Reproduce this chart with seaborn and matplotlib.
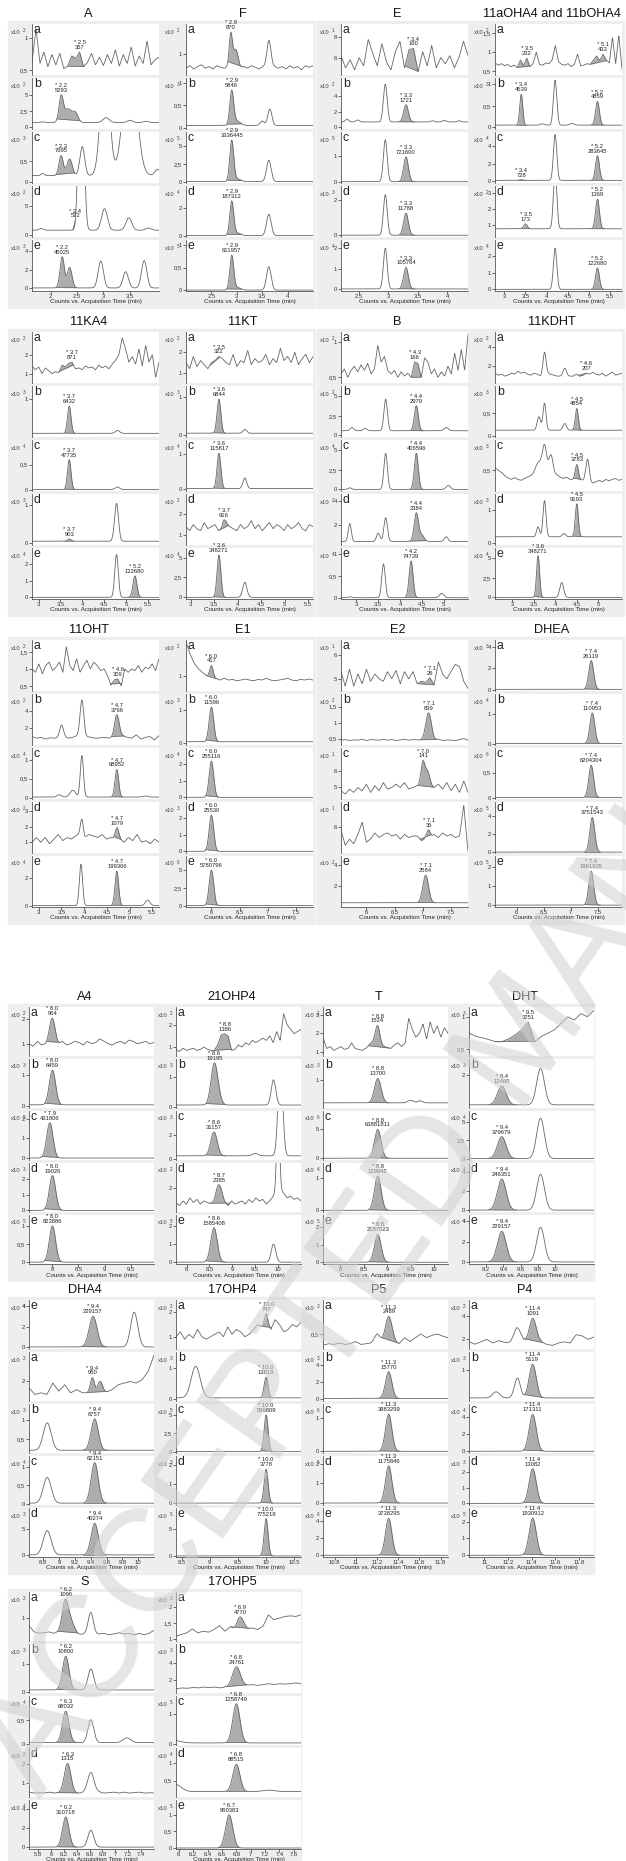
import numpy as np
import matplotlib
matplotlib.use("Agg")
import matplotlib.pyplot as plt
from matplotlib.patches import Rectangle
import seaborn as sns

sns.set_style("white")
plt.rcParams["font.family"] = ["Liberation Sans", "DejaVu Sans"]

NAMES = ["A", "F", "E", "11aOHA4 and 11bOHA4",
         "11KA4", "11KT", "B", "11KDHT",
         "11OHT", "E1", "E2", "DHEA",
         "A4", "21OHP4", "T", "DHT",
         "DHA4", "17OHP4", "P5", "P4",
         "S", "17OHP5"]
LETTERS = [list("abcde")] * 16 + [list("eabcd")] + [list("abcde")] * 5

XLIMS = [(1.65, 4.05), (2.0, 4.5), (2.2, 4.35), (2.78, 5.78),
         (2.85, 5.75), (2.9, 5.6), (2.65, 5.55), (2.6, 5.55),
         (2.85, 5.65), (5.55, 7.8), (5.55, 7.8), (5.6, 7.95),
         (7.55, 9.95), (7.77, 10.5), (7.63, 10.3), (9.0, 10.45),
         (8.62, 10.2), (8.4, 10.62), (10.69, 11.87), (10.87, 11.93),
         (5.66, 7.6), (5.96, 7.7)]
XTICKS = [[2, 2.5, 3, 3.5], [2.5, 3, 3.5, 4], [2.5, 3, 3.5, 4], [3, 3.5, 4, 4.5, 5, 5.5],
          [3, 3.5, 4, 4.5, 5, 5.5], [3, 3.5, 4, 4.5, 5, 5.5], [3, 3.5, 4, 4.5, 5], [3, 3.5, 4, 4.5, 5],
          [3, 3.5, 4, 4.5, 5, 5.5], [6, 6.5, 7, 7.5], [6, 6.5, 7, 7.5], [6, 6.5, 7, 7.5],
          [8, 8.5, 9, 9.5], [8, 8.5, 9, 9.5, 10], [8, 8.5, 9, 9.5, 10], [9.2, 9.4, 9.6, 9.8, 10],
          [8.8, 9, 9.2, 9.4, 9.6, 9.8, 10], [8.5, 9, 9.5, 10, 10.5],
          [10.8, 11, 11.2, 11.4, 11.6, 11.8], [11, 11.2, 11.4, 11.6, 11.8],
          [5.8, 6, 6.2, 6.4, 6.6, 6.8, 7, 7.2, 7.4], [6, 6.2, 6.4, 6.6, 6.8, 7, 7.2, 7.4, 7.6]]

EXPS = [[2, 2, 3, 2, 3], [2, 3, 5, 4, 5], [1, 2, 5, 3, 4], [2, 3, 4, 2, 4],
        [2, 3, 4, 3, 4], [2, 3, 4, 2, 4], [2, 2, 4, 2, 4], [2, 3, 3, 3, 4],
        [2, 2, 4, 2, 4], [2, 3, 4, 3, 6], [1, 2, 1, 1, 2], [3, 4, 6, 5, 5],
        [2, 3, 5, 3, 5], [2, 3, 3, 2, 5], [2, 3, 6, 4, 5], [3, 3, 4, 4, 4],
        [4, 2, 3, 4, 3], [2, 3, 5, 3, 5], [3, 3, 6, 5, 6], [2, 3, 4, 3, 5],
        [2, 3, 4, 2, 4], [3, 3, 5, 4, 5]]

YLIMS = [
    [(0.42, 1.22), (-0.3, 7.6), (-0.03, 1.2), (-0.4, 8.6), (-0.3, 5.2)],
    [(0.5, 1.7), (-0.03, 1.12), (-0.2, 7.0), (-0.1, 3.6), (-0.02, 1.12)],
    [(4.3, 9.3), (-0.2, 6.3), (-0.05, 1.9), (-0.1, 2.8), (-0.1, 2.4)],
    [(0.4, 1.75), (-0.04, 1.15), (-0.2, 5.6), (0.3, 3.4), (-0.1, 3.0)],
    [(0.5, 3.2), (-0.05, 1.35), (-0.03, 1.0), (-0.05, 1.3), (-0.1, 3.0)],
    [(0.5, 3.0), (-0.05, 1.3), (-0.05, 1.4), (0.5, 3.0), (-0.2, 6.2)],
    [(0.42, 1.15), (-0.2, 6.3), (-0.2, 6.3), (0.3, 4.6), (-0.03, 1.15)],
    [(0.3, 5.5), (-0.03, 1.1), (0.05, 1.15), (-0.05, 1.5), (-0.2, 6.3)],
    [(0.35, 1.85), (0.0, 6.0), (-0.03, 1.3), (0.3, 3.6), (-0.1, 3.6)],
    [(0.6, 2.0), (-0.05, 1.5), (-0.1, 3.0), (-0.1, 3.0), (-0.2, 7.0)],
    [(4.5, 6.6), (0.3, 1.9), (4.3, 7.4), (4.3, 7.6), (0.0, 4.8)],
    [(-0.1, 4.6), (-0.05, 1.7), (-0.03, 1.0), (-0.1, 5.5), (-0.1, 2.6)],
    [(0.5, 2.5), (-0.05, 1.5), (-0.1, 2.4), (-0.1, 3.0), (-0.05, 1.3)],
    [(0.6, 2.8), (-0.05, 1.6), (-0.1, 4.0), (0.5, 3.6), (-0.1, 2.6)],
    [(0.8, 3.4), (-0.1, 1.8), (-0.3, 8.2), (-0.05, 1.45), (-0.1, 2.7)],
    [(0.4, 1.15), (-0.1, 3.0), (-0.2, 6.5), (-0.2, 5.0), (-0.2, 4.6)],
    [(-0.2, 4.6), (0.8, 3.8), (0.15, 1.4), (-0.03, 1.3), (-0.3, 9.0)],
    [(0.5, 2.5), (-0.05, 1.5), (-0.2, 6.5), (-0.1, 2.5), (-0.2, 9.0)],
    [(0.3, 0.95), (-0.2, 5.5), (-0.05, 1.4), (-0.1, 2.4), (-0.2, 5.5)],
    [(1.2, 5.3), (0.0, 1.6), (-0.2, 5.5), (-0.1, 3.0), (-0.1, 2.8)],
    [(0.25, 1.85), (-0.05, 1.7), (-0.03, 1.0), (0.3, 2.8), (-0.2, 5.0)],
    [(0.95, 2.45), (0.5, 6.3), (-0.05, 1.6), (0.05, 1.4), (-0.03, 1.45)],
]
YTICKS = [
    [[0.5, 1], [0, 2.5, 5], [0, 0.5], [0, 5], [0, 2, 4]],
    [[1], [0, 0.5, 1], [0, 2.5, 5], [0, 2], [0, 0.5, 1]],
    [[6, 8], [0, 2, 4], [0, 1], [0, 2], [0, 1, 2]],
    [[0.5, 1, 1.5], [0, 0.5, 1], [0, 2, 4], [1, 2, 3], [0, 1, 2]],
    [[1, 2], [1], [0, 0.5], [0, 1], [0, 1, 2]],
    [[1, 2], [0, 1], [0, 1], [1, 2], [0, 2.5, 5]],
    [[0.5, 1], [0, 2.5, 5], [0, 2.5, 5], [2, 4], [0, 0.5, 1]],
    [[2, 4], [0, 0.5], [0.5], [0, 1], [0, 2.5, 5]],
    [[0.5, 1, 1.5], [2, 4], [0, 0.5, 1], [1, 2, 3], [0, 2]],
    [[1], [0, 1], [0, 1, 2], [0, 1, 2], [0, 2.5, 5]],
    [[5, 6], [0.5, 1, 1.5], [5, 6], [6], [2, 4]],
    [[0, 2, 4], [0, 1], [0, 0.5], [0, 2, 4], [0, 1, 2]],
    [[1, 2], [0, 1], [0, 1, 2], [0, 1, 2], [0, 0.5, 1]],
    [[1, 2], [0, 1], [0, 2], [2], [0, 1, 2]],
    [[1, 2, 3], [1], [0, 5], [0, 1], [0, 1, 2]],
    [[0.5, 1], [2], [0, 2.5, 5], [0, 2, 4], [0, 2, 4]],
    [[0, 2, 4], [2], [0.5, 1], [0, 0.5, 1], [0, 5]],
    [[1, 2], [0, 1], [0, 2.5, 5], [0, 1, 2], [0, 5]],
    [[0.5], [0, 2, 4], [0, 1], [0, 1, 2], [0, 2, 4]],
    [[2, 4], [1], [0, 2, 4], [0, 1, 2], [0, 1, 2]],
    [[1], [0, 1], [0, 0.5], [1, 2], [0, 2, 4]],
    [[1, 1.5, 2], [2, 4], [0, 1], [0.5, 1], [0, 0.5, 1]],
]

# baseline of each trace: one value = flat, several = values evenly spread over the x range
BASES = [
    [[0.62, 1.15, 0.6, 0.78, 0.55, 0.74, 0.58, 0.76, 0.52, 0.56, 0.72, 0.68, 0.78, 0.55, 0.62, 0.76, 0.58,
      0.7, 0.57, 0.74, 0.6, 0.82, 0.56, 0.74, 0.6, 0.86, 0.56, 0.72, 0.6, 0.95, 0.58, 0.66, 0.7],
     [0.7], [0.15], [0.8], [0.03]],
    [[0.66, 0.72, 0.64, 0.7, 0.74, 0.66, 0.7, 0.64, 0.72, 0.68, 0.66, 0.7, 0.74, 0.7, 0.64, 0.7, 0.66,
      0.72, 0.68, 0.64, 0.7, 0.66, 0.72, 0.7, 0.66, 0.7, 0.64, 0.72, 0.66, 0.7, 0.62, 0.72, 0.68, 0.72],
     [0.05], [0.0], [0.0], [0.0]],
    [[6.2, 5.0, 5.8, 4.8, 6.0, 5.2, 7.8, 6.4, 5.2, 7.4, 5.6, 4.8, 6.6, 7.6, 5.0, 6.8, 6.9, 4.6, 6.6, 5.2,
      7.2, 5.0, 6.0, 5.4, 6.2, 5.0, 6.0, 7.6, 6.2],
     [0.7], [0.0], [0.0], [0.0]],
    [[0.72, 0.66, 0.7, 0.64, 0.68, 0.62, 0.66, 0.6, 0.8, 0.65, 0.85, 0.62, 0.7, 1.0, 0.68, 0.66, 0.72, 0.7,
      0.8, 1.18, 0.75, 0.68, 0.66, 0.7, 0.62, 0.68, 0.95, 0.64, 0.66, 0.7, 0.68, 0.8, 0.9, 0.78, 0.95, 0.8,
      0.72, 1.4, 0.7, 1.45, 0.55],
     [0.05], [0.1], [0.8], [0.0]],
    [[1.4, 1.2, 1.35, 1.0, 1.3, 1.15, 1.0, 1.1, 1.05, 1.45, 1.35, 1.55, 1.6, 1.25, 1.3, 1.2, 1.4, 1.3,
      1.35, 1.2, 1.45, 1.3, 1.4, 1.25, 1.5, 1.7, 2.0, 2.9, 2.3, 1.6, 1.9, 1.5, 2.3, 1.4, 2.5, 1.6, 2.0,
      0.8, 1.6],
     [0.05], [0.0], [0.05], [0.0]],
    [[1.5, 1.2, 1.8, 1.3, 1.6, 1.4, 1.2, 1.5, 1.6, 1.8, 1.7, 1.5, 1.4, 1.9, 1.3, 1.6, 1.5, 2.1, 1.4, 1.7,
      1.5, 1.6, 1.9, 1.4, 1.7, 1.5, 2.2, 1.6, 1.8, 1.5, 2.0, 1.4, 1.7, 1.9, 1.5, 1.8],
     [0.05], [0.02],
     [1.4, 1.2, 1.5, 1.3, 1.2, 1.6, 1.3, 1.4, 1.5, 1.2, 1.3, 1.6, 1.4, 1.3, 1.2, 1.5, 1.3, 1.4, 1.7, 1.3,
      1.5, 1.2, 1.4, 1.6, 1.3, 1.5, 1.4, 1.2, 1.5, 1.3, 1.4, 1.6, 1.3, 1.2, 1.5, 1.4],
     [0.0]],
    [[0.55, 0.62, 0.5, 0.6, 0.66, 0.58, 0.68, 0.6, 0.7, 0.55, 0.62, 0.96, 0.72, 0.8, 0.6, 0.55, 0.6, 0.5,
      0.58, 0.52, 0.56, 0.5, 0.72, 0.7, 0.5, 0.78, 0.72, 0.55, 0.62, 0.5, 0.58, 0.52, 0.66, 0.55, 0.85,
      0.6, 0.9, 0.6, 1.12],
     [0.6], [0.0], [0.6], [0.0]],
    [[1.3, 1.1, 1.2, 1.0, 1.1, 1.3, 1.2, 1.5, 1.3, 1.4, 1.2, 1.1, 1.3, 1.2, 1.0, 1.1, 1.3, 1.2, 1.1, 1.0,
      1.0, 1.0, 1.0, 1.0, 1.0, 1.2, 1.0, 1.1, 1.3, 1.2, 1.4, 1.2, 1.1, 1.3, 1.0, 1.2, 1.4, 1.1, 1.2, 1.3],
     [0.12],
     [0.55, 0.5, 0.45, 0.38, 0.33, 0.3, 0.34, 0.3, 0.28, 0.32, 0.35, 0.38, 0.42, 0.45, 0.5, 0.45, 0.4,
      0.38, 0.36, 0.4, 0.35, 0.32, 0.35, 0.3, 0.3, 0.3, 0.3, 0.28, 0.25, 0.22, 0.22, 0.25, 0.28, 0.25,
      0.3, 0.27, 0.3, 0.32, 0.28, 0.3],
     [0.2], [0.0]],
    [[1.0, 0.9, 1.15, 0.85, 1.1, 1.2, 0.95, 1.05, 1.2, 0.9, 1.65, 1.1, 0.95, 1.3, 0.9, 1.1, 1.25, 1.0,
      1.2, 1.1, 0.95, 1.0, 0.8, 0.52, 0.68, 0.7, 0.5, 1.0, 0.9, 1.0, 0.95, 1.1, 0.9, 1.05, 1.0, 1.15,
      0.95, 1.3],
     [1.0, 0.8, 0.9, 0.7, 0.85, 0.8, 0.9, 1.0, 0.8, 0.9, 1.1, 1.3, 1.0, 0.9, 0.8, 0.85, 0.9, 0.8, 0.9,
      1.0, 1.1, 0.9, 0.8, 1.2, 0.7, 0.9, 1.0, 0.6, 1.1],
     [0.02],
     [1.0, 1.3, 1.0, 1.3, 0.9, 1.2, 1.5, 1.1, 1.3, 1.2, 1.4, 1.6, 1.3, 1.5, 1.4, 1.3, 1.5, 1.2, 1.3, 1.1,
      1.2, 1.0, 1.3, 1.1, 1.5, 1.0, 1.1, 0.9, 1.2, 1.0],
     [0.0]],
    [[1.95, 1.6, 1.35, 1.2, 1.1, 1.0, 1.0, 0.95, 0.9, 0.95, 0.9, 0.92, 0.88, 0.9, 0.93, 0.9, 0.88, 0.92,
      0.9, 0.95, 0.9, 0.88, 0.9, 0.92, 0.95, 0.9, 0.88, 0.92, 0.9, 0.93, 0.9],
     [0.05], [0.0], [0.0], [0.0]],
    [[5.3, 4.7, 5.4, 4.7, 5.2, 4.8, 5.4, 4.9, 5.2, 5.0, 4.9, 5.3, 5.0, 5.35, 4.8, 5.3, 5.0, 5.3, 4.8, 4.9,
      4.85, 5.05, 4.75, 5.7, 5.2, 5.0, 5.3, 5.6, 5.5, 4.9, 4.6],
     [0.45, 0.47, 0.44, 0.46, 0.45, 0.48, 0.44, 0.47, 0.46, 0.45, 0.48, 0.45, 0.47, 0.44, 0.46, 0.48,
      0.45, 0.47, 0.46, 0.45, 0.44, 0.47, 0.45, 0.48, 0.44, 0.46, 0.45, 0.44, 0.47, 0.5, 0.45],
     [4.8, 4.6, 4.9, 4.7, 5.0, 4.8, 5.2, 4.7, 5.1, 4.8, 5.3, 4.9, 5.0, 5.2, 5.0, 5.3, 4.9, 5.0, 5.1, 5.0,
      5.0, 5.1, 5.0, 5.2, 4.9, 5.3, 4.8, 5.2, 4.7, 5.4, 4.7],
     [5.8, 4.8, 5.2, 4.9, 5.5, 6.3, 5.0, 5.2, 5.6, 5.3, 5.5, 5.6, 5.4, 5.5, 5.2, 5.5, 5.3, 5.4, 5.4, 5.1,
      5.3, 5.3, 5.5, 5.3, 5.6, 5.4, 5.5, 5.3, 5.4, 7.4, 4.4],
     [0.4]],
    [[0.05], [0.0], [0.0], [0.0], [0.0]],
    [[1.0, 0.9, 1.1, 0.95, 1.0, 1.2, 1.1, 1.0, 1.1, 0.95, 1.0, 1.1, 1.05, 0.95, 1.1, 1.0, 1.05, 1.2, 1.1,
      1.0, 0.95, 1.05, 1.1, 1.0, 1.15, 1.1, 1.0, 1.05, 1.1, 1.0, 1.05],
     [0.05], [0.0], [0.0], [0.0]],
    [[0.9, 0.8, 0.95, 0.85, 0.9, 0.95, 0.85, 0.9, 1.0, 0.9, 0.85, 0.85, 1.1, 1.55, 1.6, 1.5, 0.85, 0.9,
      1.1, 1.0, 1.2, 1.1, 1.3, 1.2, 1.3, 1.4, 1.3, 1.5, 1.2, 1.7, 1.3, 2.5, 2.0, 1.8, 1.6, 1.7, 1.8],
     [0.05], [0.25],
     [1.1, 0.9, 1.2, 1.0, 1.4, 1.1, 1.3, 1.0, 1.2, 1.1, 1.0, 0.85, 1.0, 1.1, 1.0, 0.9, 1.2, 1.0, 1.1, 1.2,
      1.0, 1.3, 1.1, 1.4, 1.2, 1.3, 1.0, 1.2, 1.5, 1.8, 1.9, 1.7, 1.4, 1.5, 1.3, 1.4, 1.2],
     [0.0]],
    [[1.8, 1.2, 1.3, 1.1, 1.2, 1.3, 1.15, 1.2, 1.5, 1.2, 1.15, 1.1, 1.2, 1.3, 1.2, 1.25, 1.2, 1.3, 1.25,
      1.2, 1.4, 1.5, 1.3, 1.5, 2.8, 2.2, 1.8, 2.0, 2.5, 1.7, 2.6, 2.0, 2.4, 1.8, 2.3, 2.0],
     [0.1], [0.0], [0.0], [0.0]],
    [[0.75, 0.7, 0.68, 0.65, 0.62, 0.62, 0.66, 0.72, 0.8, 0.92, 0.62, 0.7, 0.75, 0.8, 0.9, 1.0, 0.95,
      1.05, 1.0, 1.1],
     [0.1], [0.0], [0.0], [0.0]],
    [[0.0],
     [1.6, 1.2, 1.3, 1.2, 1.9, 1.4, 1.8, 1.3, 1.5, 1.3, 1.3, 1.35, 1.3, 1.35, 1.5, 1.8, 1.9, 2.0, 1.9, 2.1,
      2.6, 3.6],
     [0.22], [0.02], [0.1]],
    [[1.0, 1.2, 0.9, 1.1, 0.95, 1.3, 1.0, 0.9, 1.0, 1.1, 1.2, 1.0, 1.4, 1.1, 1.3, 1.2, 1.0, 1.1, 1.3, 1.5,
      1.4, 1.6, 1.3, 1.7, 1.5, 1.2, 1.3, 1.5, 1.4, 1.6],
     [0.05], [0.0], [0.0], [0.0]],
    [[0.35, 0.37, 0.36, 0.38, 0.36, 0.37, 0.4, 0.36, 0.37, 0.38, 0.42, 0.4, 0.38, 0.4, 0.37, 0.45, 0.4,
      0.45, 0.5, 0.45, 0.48, 0.5, 0.47, 0.45],
     [0.1], [0.0], [0.0], [0.0]],
    [[1.8, 1.6, 1.8, 2.0, 1.7, 1.9, 1.75, 1.7, 2.0, 1.8, 1.6, 1.7, 1.8, 1.6, 1.5, 1.7, 1.8, 1.7, 2.4,
      2.3, 2.0, 2.2],
     [0.1], [0.0], [0.0], [0.0]],
    [[0.75, 0.55, 0.5, 0.52, 0.55, 0.5, 0.55, 0.68, 0.52, 0.45, 0.45, 0.48, 0.5, 0.45, 0.48, 0.5, 0.45,
      0.48, 0.52, 0.48, 0.5, 0.45, 0.5, 0.45, 0.5, 0.6],
     [0.06], [0.02],
     [0.55, 0.5, 0.52, 0.5, 0.55, 0.5, 0.52, 0.55, 0.5, 0.5, 0.5, 0.52, 0.5, 0.5, 0.55, 0.5, 0.52, 0.55,
      0.5, 0.55, 0.5, 0.52, 0.55, 0.5, 0.52, 0.5],
     [0.0]],
    [[1.1, 1.15, 1.2, 1.32, 1.2, 1.25, 1.22, 1.3, 1.42, 1.25, 1.38, 1.2, 1.25, 1.3, 1.35, 1.3, 1.4, 1.75,
      1.6, 1.65, 1.7, 1.72, 1.7, 1.75],
     [1.0, 1.1, 1.05, 1.15, 1.1, 1.2, 1.15, 1.2, 1.1, 1.2, 1.15, 1.2, 1.3, 1.4, 1.5, 1.4, 1.5, 1.6, 1.5,
      1.6, 1.55, 1.6, 1.7, 1.6],
     [0.02], [0.2], [0.0]],
]

# gaussian peaks (retention time, height, width) of each trace
PEAKS = [
    [[],
     [(2.2, 3.9, 0.04), (2.33, 2.1, 0.07), (2.47, 1.4, 0.05), (1.85, 0.1, 0.04), (3.05, 0.75, 0.06),
      (3.5, 0.35, 0.05), (3.8, 0.2, 0.05)],
     [(1.85, 0.05, 0.03), (2.2, 0.48, 0.04), (2.36, 0.4, 0.05), (2.6, 0.7, 0.045), (3.03, 3.0, 0.08),
      (3.5, 3.0, 0.12), (4.02, 0.15, 0.05)],
     [(1.82, 0.3, 0.04), (2.58, 40.0, 0.045), (3.02, 3.8, 0.055), (3.48, 2.2, 0.055), (3.85, 0.4, 0.05)],
     [(2.22, 3.35, 0.04), (2.36, 2.2, 0.045), (2.95, 2.9, 0.05), (3.42, 1.75, 0.05), (3.77, 2.95, 0.05)]],
    [[(2.88, 0.72, 0.03), (2.98, 0.4, 0.05), (3.63, 0.62, 0.04)],
     [(2.9, 0.76, 0.038), (3.0, 0.1, 0.07), (3.5, 0.1, 0.04), (3.65, 0.37, 0.04)],
     [(2.9, 5.7, 0.038), (3.0, 0.4, 0.07), (3.63, 3.0, 0.045)],
     [(2.9, 2.45, 0.038), (3.0, 0.2, 0.07), (3.63, 1.55, 0.045)],
     [(2.9, 0.76, 0.038), (3.0, 0.06, 0.07), (3.63, 0.52, 0.045)]],
    [[],
     [(2.95, 4.8, 0.032), (3.3, 2.2, 0.04), (2.3, 0.35, 0.03), (2.48, 0.25, 0.03), (3.75, 0.15, 0.03),
      (3.95, 0.2, 0.03), (4.2, 0.15, 0.03)],
     [(2.95, 1.6, 0.032), (3.3, 0.95, 0.04)],
     [(2.95, 2.3, 0.032), (3.3, 1.25, 0.04)],
     [(2.95, 2.0, 0.032), (3.3, 1.05, 0.04)]],
    [[],
     [(3.4, 0.72, 0.035), (4.2, 1.05, 0.04), (5.2, 0.55, 0.045), (3.9, 0.03, 0.05), (4.6, 0.04, 0.05)],
     [(3.4, 0.08, 0.035), (4.2, 5.2, 0.04), (5.2, 2.8, 0.045)],
     [(3.5, 0.3, 0.04), (4.2, 3.5, 0.04), (5.2, 1.8, 0.045)],
     [(4.2, 2.5, 0.04), (5.2, 1.3, 0.045)]],
    [[],
     [(3.7, 0.75, 0.04), (4.8, 0.08, 0.05)],
     [(3.7, 0.6, 0.04), (4.8, 0.05, 0.05)],
     [(3.7, 0.06, 0.04), (4.78, 1.0, 0.045)],
     [(4.78, 2.6, 0.04), (5.2, 1.3, 0.045)]],
    [[],
     [(3.6, 0.9, 0.04), (4.15, 0.1, 0.04)],
     [(3.6, 1.0, 0.04), (4.15, 0.3, 0.04)],
     [(3.7, 0.3, 0.03)],
     [(3.6, 5.3, 0.04), (4.15, 1.9, 0.045)]],
    [[],
     [(3.67, 4.0, 0.04), (4.37, 3.2, 0.045), (2.9, 0.4, 0.04), (3.2, 0.3, 0.04), (5.05, 0.4, 0.05)],
     [(3.67, 4.6, 0.04), (4.37, 4.6, 0.045), (2.85, 0.2, 0.04), (5.1, 0.5, 0.05)],
     [(2.85, 1.5, 0.035), (3.5, 0.7, 0.04), (3.67, 2.0, 0.04), (4.37, 2.4, 0.05), (4.5, 0.5, 0.05),
      (5.05, 0.4, 0.04)],
     [(3.62, 0.78, 0.04), (4.25, 0.85, 0.045), (4.95, 0.1, 0.05), (2.85, 0.02, 0.05)]],
    [[(3.75, 2.3, 0.035), (4.22, 0.8, 0.04)],
     [(3.62, 0.3, 0.04), (3.75, 0.6, 0.035), (4.22, 0.15, 0.04), (4.5, 0.48, 0.035)],
     [(3.75, 0.6, 0.05), (3.9, 0.45, 0.05), (3.6, 0.2, 0.06), (4.5, 0.32, 0.035), (4.75, 0.5, 0.04)],
     [(3.6, 0.3, 0.035), (3.75, 1.1, 0.035), (4.2, 0.1, 0.04), (4.5, 1.0, 0.035)],
     [(3.6, 5.3, 0.035), (4.15, 1.9, 0.045)]],
    [[],
     [(3.5, 1.4, 0.04), (3.95, 4.0, 0.04), (4.72, 2.6, 0.05)],
     [(3.45, 0.06, 0.05), (3.75, 0.18, 0.06), (3.95, 1.08, 0.035), (4.72, 0.72, 0.04), (5.35, 0.03, 0.05)],
     [(3.95, 1.0, 0.03), (4.72, 0.8, 0.04)],
     [(3.93, 3.0, 0.035), (4.72, 2.5, 0.04), (5.4, 0.4, 0.05)]],
    [[(6.0, 0.3, 0.03)],
     [(6.0, 1.05, 0.04)],
     [(6.0, 2.2, 0.04)],
     [(6.0, 2.2, 0.04)],
     [(6.0, 5.0, 0.04)]],
    [[],
     [(7.1, 0.85, 0.05)],
     [(7.0, 1.5, 0.035), (7.08, 0.9, 0.04)],
     [(7.1, 0.5, 0.03)],
     [(7.05, 2.6, 0.05)]],
    [[(7.38, 2.65, 0.045)], [(7.4, 1.05, 0.045)], [(7.38, 0.65, 0.045)], [(7.4, 3.8, 0.045)],
     [(7.38, 1.8, 0.045)]],
    [[(8.0, 0.9, 0.05)], [(8.0, 1.1, 0.06)], [(7.95, 1.8, 0.06)], [(8.0, 2.2, 0.06)], [(8.0, 1.0, 0.06)]],
    [[],
     [(8.6, 1.25, 0.07), (9.9, 0.85, 0.05), (8.68, 0.3, 0.07)],
     [(8.6, 2.0, 0.07), (9.5, 0.2, 0.06), (10.05, 8.0, 0.05)],
     [(8.7, 1.2, 0.07), (10.0, 6.0, 0.03)],
     [(8.6, 1.9, 0.07), (9.9, 1.0, 0.05)]],
    [[(8.8, 1.1, 0.05), (8.7, 0.3, 0.06)],
     [(8.8, 0.95, 0.07), (9.5, 0.1, 0.06), (9.7, 0.08, 0.05)],
     [(8.8, 5.0, 0.07)],
     [(8.8, 1.05, 0.07)],
     [(8.8, 1.6, 0.07)]],
    [[],
     [(9.38, 1.2, 0.05), (9.83, 2.3, 0.045)],
     [(9.38, 3.0, 0.05), (9.83, 5.5, 0.045)],
     [(9.38, 3.3, 0.05), (9.83, 3.8, 0.045)],
     [(9.38, 3.0, 0.05), (9.83, 3.4, 0.045)]],
    [[(9.43, 3.0, 0.05), (9.95, 3.4, 0.045)],
     [(9.42, 0.9, 0.025), (9.52, 0.7, 0.03)],
     [(8.85, 0.7, 0.05), (9.45, 0.8, 0.045)],
     [(8.85, 0.7, 0.05), (9.45, 1.1, 0.045)],
     [(8.85, 4.6, 0.05), (9.45, 6.0, 0.045)]],
    [[(10.0, 0.35, 0.03)],
     [(8.75, 1.0, 0.08), (10.0, 0.65, 0.035)],
     [(10.0, 5.0, 0.035)],
     [(10.0, 1.8, 0.035)],
     [(10.0, 7.0, 0.035)]],
    [[(11.2, 0.08, 0.025), (11.31, 0.35, 0.03)],
     [(11.31, 3.1, 0.03)],
     [(11.31, 1.1, 0.03)],
     [(11.31, 1.9, 0.03)],
     [(11.31, 4.3, 0.03)]],
    [[(11.28, 1.0, 0.03), (11.41, 2.1, 0.03)],
     [(11.1, 0.2, 0.03), (11.28, 0.65, 0.025), (11.41, 1.1, 0.03)],
     [(11.41, 4.3, 0.03)],
     [(11.41, 2.2, 0.03)],
     [(11.41, 2.2, 0.03)]],
    [[(6.23, 0.95, 0.05), (6.33, 0.3, 0.05), (6.62, 0.7, 0.04)],
     [(6.23, 1.2, 0.05), (6.62, 0.75, 0.045)],
     [(6.23, 0.66, 0.05), (6.62, 0.48, 0.045), (7.18, 0.1, 0.06)],
     [(6.26, 1.5, 0.05), (6.62, 1.05, 0.05)],
     [(6.23, 3.2, 0.05), (6.62, 1.8, 0.045)]],
    [[(6.85, 0.45, 0.05)],
     [(6.8, 2.4, 0.055)],
     [(6.8, 1.32, 0.05), (5.9, 0.1, 0.1)],
     [(6.8, 0.75, 0.05), (5.95, 0.2, 0.08), (7.25, 0.04, 0.08)],
     [(6.7, 1.0, 0.05)]],
]

# integrated peaks: (start, end, retention time label, area)
MARKS = [
    [[(2.32, 2.63, "2.5", "357")], [(2.12, 2.56, "2.2", "5293")], [(2.1, 2.46, "2.3", "7695")],
     [(2.42, 2.47, "2.4", "572")], [(2.1, 2.5, "2.2", "45025")]],
    [[(2.82, 3.12, "2.9", "870")], [(2.8, 3.1, "2.9", "5846")], [(2.8, 3.1, "2.9", "3336445")],
     [(2.8, 3.1, "2.9", "187312")], [(2.8, 3.1, "2.9", "611957")]],
    [[(3.28, 3.51, "3.4", "160")], [(3.18, 3.45, "3.3", "1721")], [(3.18, 3.45, "3.3", "721600")],
     [(3.18, 3.45, "3.3", "11788")], [(3.18, 3.45, "3.3", "105764")]],
    [[(3.3, 3.6, "3.5", "232"), (5.03, 5.42, "5.1", "433")],
     [(3.28, 3.52, "3.4", "4539"), (5.05, 5.36, "5.2", "4859")],
     [(3.3, 3.5, "3.4", "728"), (5.05, 5.36, "5.2", "283645")],
     [(3.4, 3.6, "3.5", "173"), (5.05, 5.36, "5.2", "1369")],
     [(5.05, 5.36, "5.2", "122680")]],
    [[(3.47, 3.8, "3.7", "871")], [(3.58, 3.84, "3.7", "6432")], [(3.58, 3.84, "3.7", "47735")],
     [(3.6, 3.8, "3.7", "903")], [(5.05, 5.36, "5.2", "122680")]],
    [[(3.4, 3.62, "3.5", "322")], [(3.48, 3.74, "3.6", "6844")], [(3.48, 3.74, "3.6", "115817")],
     [(3.62, 3.8, "3.7", "916")], [(3.48, 3.74, "3.6", "348271")]],
    [[(4.25, 4.48, "4.3", "166")], [(4.22, 4.55, "4.4", "2979")], [(4.22, 4.55, "4.4", "406596")],
     [(4.22, 4.6, "4.4", "2384")], [(4.1, 4.42, "4.2", "74739")]],
    [[(4.53, 4.72, "4.6", "207")], [(4.4, 4.62, "4.5", "4854")], [(4.42, 4.6, "4.5", "3783")],
     [(4.4, 4.62, "4.5", "9193")], [(3.5, 3.72, "3.6", "348271")]],
    [[(4.58, 4.83, "4.6", "309")], [(4.6, 4.88, "4.7", "3766")], [(4.6, 4.85, "4.7", "68952")],
     [(4.65, 4.82, "4.7", "1079")], [(4.6, 4.85, "4.7", "199366")]],
    [[(5.92, 6.1, "6.0", "417")], [(5.9, 6.12, "6.0", "11596")], [(5.9, 6.12, "6.0", "255116")],
     [(5.9, 6.12, "6.0", "25530")], [(5.9, 6.12, "6.0", "5780796")]],
    [[(6.9, 7.2, "7.1", "26")], [(6.95, 7.25, "7.1", "839")], [(6.9, 7.2, "7.0", "141")],
     [(6.95, 7.15, "7.1", "35")], [(6.9, 7.22, "7.1", "2584")]],
    [[(7.25, 7.55, "7.4", "26119")], [(7.25, 7.55, "7.4", "110953")], [(7.25, 7.55, "7.4", "6204304")],
     [(7.25, 7.55, "7.4", "3751543")], [(7.25, 7.55, "7.4", "1861935")]],
    [[(7.88, 8.15, "8.0", "954")], [(7.85, 8.18, "8.0", "6459")], [(7.8, 8.12, "7.9", "431806")],
     [(7.85, 8.18, "8.0", "19026")], [(7.85, 8.18, "8.0", "823886")]],
    [[(8.6, 8.98, "8.8", "1386")], [(8.42, 8.85, "8.6", "19195")], [(8.42, 8.85, "8.6", "31157")],
     [(8.5, 8.95, "8.7", "2385")], [(8.42, 8.85, "8.6", "1585408")]],
    [[(8.6, 9.05, "8.8", "1524")], [(8.6, 9.05, "8.8", "13700")], [(8.6, 9.05, "8.8", "63881811")],
     [(8.6, 9.05, "8.8", "129942")], [(8.6, 9.05, "8.8", "2187023")]],
    [[(9.3, 9.77, "9.5", "3251")], [(9.22, 9.55, "9.4", "12460")], [(9.22, 9.55, "9.4", "379679")],
     [(9.22, 9.55, "9.4", "246351")], [(9.22, 9.55, "9.4", "229157")]],
    [[(9.28, 9.6, "9.4", "229157")], [(9.35, 9.62, "9.4", "950")], [(9.3, 9.62, "9.4", "6757")],
     [(9.3, 9.6, "9.4", "62151")], [(9.3, 9.6, "9.4", "40274")]],
    [[(9.92, 10.1, "10.0", "747")], [(9.9, 10.12, "10.0", "13819")], [(9.9, 10.12, "10.0", "596809")],
     [(9.9, 10.12, "10.0", "3778")], [(9.9, 10.12, "10.0", "775218")]],
    [[(11.24, 11.4, "11.3", "2489")], [(11.22, 11.42, "11.3", "15770")], [(11.22, 11.42, "11.3", "3983299")],
     [(11.22, 11.42, "11.3", "1175846")], [(11.22, 11.42, "11.3", "3738295")]],
    [[(11.33, 11.5, "11.4", "1091")], [(11.33, 11.5, "11.4", "5119")], [(11.33, 11.5, "11.4", "171311")],
     [(11.33, 11.5, "11.4", "13082")], [(11.33, 11.5, "11.4", "1930912")]],
    [[(6.1, 6.42, "6.2", "1096")], [(6.08, 6.4, "6.2", "10800")], [(6.08, 6.4, "6.3", "68032")],
     [(6.1, 6.42, "6.3", "1315")], [(6.08, 6.4, "6.2", "310718")]],
    [[(6.72, 6.98, "6.9", "4770")], [(6.65, 6.95, "6.8", "24761")], [(6.65, 6.95, "6.8", "1258749")],
     [(6.65, 6.95, "6.8", "88515")], [(6.55, 6.85, "6.7", "950383")]],
]

LINE = "#666666"
FILL = "#adadad"
GRAY = "#eeeeee"
W, H = 626, 1861
TITLE_Y = [14, 322, 630, 997, 1290, 1582]
PITCH = [54, 54, 54, 52, 52, 52]
TOP_COLS = [8, 162, 317, 471]
BOT_COLS = [8, 155, 302, 448]


def make_trace(t, base, peaks, xlim):
    if len(base) == 1:
        y = np.full_like(t, base[0])
    else:
        y = np.interp(t, np.linspace(xlim[0], xlim[1], len(base)), base)
    for rt, h, w in peaks:
        y = y + h * np.exp(-0.5 * ((t - rt) / w) ** 2)
    return y


def fmt(v, sep):
    return f"{v:g}".replace(".", sep)


fig = plt.figure(figsize=(W / 100, H / 100), dpi=100)

for i, name in enumerate(NAMES):
    if i < 12:
        row, col = i // 4, i % 4
        x0, cw, axl, aw = TOP_COLS[col], 153, TOP_COLS[col] + 24, 127
    else:
        row, col = 3 + (i - 12) // 4, (i - 12) % 4
        x0, cw, axl, aw = BOT_COLS[col], 146, BOT_COLS[col] + 21, 125
    ty, p = TITLE_Y[row], PITCH[row]
    top0 = ty + 10
    bottom = min(top0 + 5 * p + 14, H)
    fig.patches.append(Rectangle((x0 / W, 1 - bottom / H), cw / W, (bottom - top0 + 3) / H,
                                 transform=fig.transFigure, color=GRAY, zorder=-5))
    fig.text((x0 + cw / 2 + 4) / W, 1 - ty / H, name, ha="center", va="center", fontsize=9.2, color="#111")
    lo, hi = XLIMS[i]
    t = np.linspace(lo, hi, 700)
    for k in range(5):
        top = top0 + k * p
        ph = p - 3
        ax = fig.add_axes([axl / W, 1 - (top + ph) / H, aw / W, ph / H])
        ax.set_facecolor("white")
        y = make_trace(t, BASES[i][k], PEAKS[i][k], XLIMS[i])
        sns.lineplot(x=t, y=y, ax=ax, color=LINE, lw=0.6, estimator=None, errorbar=None, sort=False)
        for s, e, rt, area in MARKS[i][k]:
            m = (t >= s) & (t <= e)
            tt, yy = t[m], y[m]
            yb = np.interp(tt, [tt[0], tt[-1]], [yy[0], yy[-1]])
            ax.fill_between(tt, yb, yy, color=FILL, lw=0)
            ax.plot(tt, yb, color=LINE, lw=0.5)
            j = int(np.argmax(yy))
            ax.annotate(f"* {rt}\n{area}", (tt[j], yy[j]), xytext=(0, 1.5), textcoords="offset points",
                        ha="center", va="bottom", fontsize=4.2, linespacing=0.95, color="#222",
                        annotation_clip=False)
        ax.set_xlim(lo, hi)
        ax.set_ylim(*YLIMS[i][k])
        ax.set_xlabel("")
        ax.set_ylabel("")
        ax.set_yticks(YTICKS[i][k])
        ax.set_yticklabels([fmt(v, ",") for v in YTICKS[i][k]])
        ax.tick_params(axis="y", left=True, length=2, width=0.5, pad=0.8, labelsize=4.2, colors="#333")
        for sp in ["top", "right"]:
            ax.spines[sp].set_visible(False)
        ax.spines["left"].set_color("#555")
        ax.spines["left"].set_linewidth(0.6)
        if k < 4:
            ax.spines["bottom"].set_visible(False)
            ax.set_xticks([])
        else:
            ax.spines["bottom"].set_color("#555")
            ax.spines["bottom"].set_linewidth(0.6)
            ax.set_xticks(XTICKS[i])
            ax.set_xticklabels([fmt(v, ".") for v in XTICKS[i]])
            ax.tick_params(axis="x", bottom=True, length=2, width=0.5, pad=0.5, labelsize=4.2, colors="#333")
        ax.text(0.015, 1.0, LETTERS[i][k], transform=ax.transAxes, ha="left", va="top", fontsize=8.8,
                color="#222")
        fig.text((x0 + 3) / W, 1 - (top + 8) / H, "x10", ha="left", va="center", fontsize=4.2, color="#444")
        fig.text((x0 + 14.5) / W, 1 - (top + 6.5) / H, str(EXPS[i][k]), ha="left", va="center",
                 fontsize=3.3, color="#444")
    fig.text((axl + aw / 2) / W, 1 - (top0 + 5 * p + 8) / H, "Counts vs. Acquisition Time (min)",
             ha="center", va="center", fontsize=4.5, color="#222")

fig.text(40 / W, 1 - 1800 / H, "ACCEPTED MANUSCRIPT", rotation=55, rotation_mode="anchor",
         ha="left", va="baseline", fontsize=105, color="#d0d0d0", alpha=0.55, zorder=20)

fig.savefig("out.png", dpi=100)
